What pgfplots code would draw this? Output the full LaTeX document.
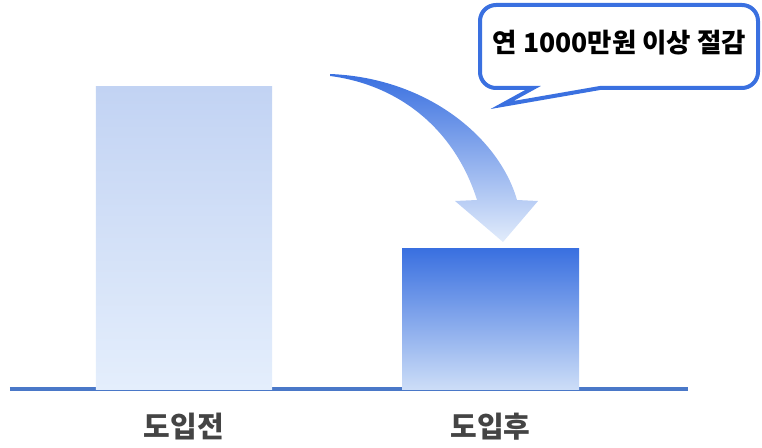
\documentclass[border=0pt]{standalone}
\usepackage{pgfplots}
\pgfplotsset{compat=1.18}
\usepackage{fontspec}
\newfontfamily\kr{Noto Sans CJK KR}
\definecolor{blueD}{HTML}{3A70E0}
\definecolor{barAtop}{HTML}{C2D3F3}
\definecolor{barAbot}{HTML}{E4EEFC}
\definecolor{barBbot}{HTML}{CCDDF7}
\definecolor{baseC}{HTML}{4A78C8}
\definecolor{arrBot}{HTML}{E2ECFB}
\definecolor{labC}{HTML}{444444}
\begin{document}
\begin{tikzpicture}
\begin{axis}[
  at={(0pt,0pt)}, anchor=origin,
  x=306.5pt, y=3.02pt,
  xmin=-0.5677, xmax=1.6444, ymin=0, ymax=127,
  axis x line=bottom, axis y line=none,
  axis line style={-, line width=3.6pt, color=baseC},
  xtick={0,1}, xticklabels={도입전,도입후},
  major tick length=0pt,
  xticklabel style={anchor=center, yshift=-38pt, text=labC, font=\kr\bfseries\fontsize{29}{31}\selectfont},
  ytick=\empty,
  clip=false,
]
\addplot[ybar, bar width=176pt, bar shift=0pt, draw=none, top color=barAtop, bottom color=barAbot] coordinates {(0,100)};
\addplot[ybar, bar width=177pt, bar shift=0pt, draw=none, top color=blueD, bottom color=barBbot] coordinates {(1,46.4)};
\end{axis}
\begin{scope}[x=1pt,y=1pt]
% bounding box
\path (-184,-58) rectangle (578,389);
% curved arrow
\shade[top color=blueD, bottom color=arrBot]
  (146,315) .. controls (246,311) and (316,249) .. (333,189)
  -- (354,188) -- (319,147) -- (271,188) -- (293,189)
  .. controls (271,259) and (216,304) .. (146,313) -- cycle;
% speech bubble
\draw[line width=4pt, color=blueD, fill=white, line join=miter]
  (349,301) -- (318,284) -- (416,301)
  [rounded corners=16pt] -- (574,301) -- (574,384) -- (296,384) -- (296,301)
  [sharp corners] -- cycle;
\node[font=\kr\bfseries\fontsize{26.5}{29}\selectfont, text=black] at (435.5,346.5) {연 1000만원 이상 절감};
\end{scope}
\end{tikzpicture}
\end{document}
